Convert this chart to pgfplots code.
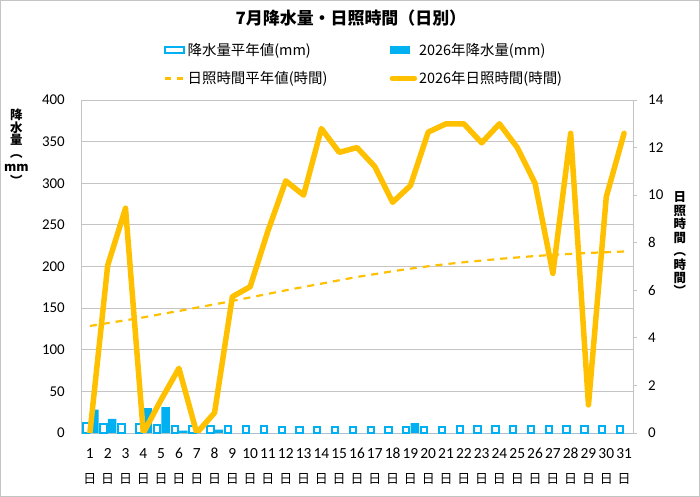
\documentclass[border=0pt]{standalone}
\usepackage{pgfplots}
\pgfplotsset{compat=1.18}
\usepackage{fontspec}
\setmainfont{Carlito}
\newfontfamily\jp{Noto Sans CJK JP}
\definecolor{rainblue}{HTML}{00B0F0}
\definecolor{sunyel}{HTML}{FFC000}
\definecolor{gridgray}{HTML}{C4C4C4}
\newcommand\dd[1]{#1\\{\jp\fontsize{13}{25}\selectfont 日}}
\begin{document}
\begin{tikzpicture}
\begin{axis}[
  at={(0,0)}, anchor=south west,
  scale only axis, width=552bp, height=333bp,
  xmin=0.5, xmax=31.5, ymin=0, ymax=400,
  ytick={0,50,...,400},
  xtick={1,...,31},
  xticklabels={\dd{1},\dd{2},\dd{3},\dd{4},\dd{5},\dd{6},\dd{7},\dd{8},\dd{9},\dd{10},\dd{11},\dd{12},\dd{13},\dd{14},\dd{15},\dd{16},\dd{17},\dd{18},\dd{19},\dd{20},\dd{21},\dd{22},\dd{23},\dd{24},\dd{25},\dd{26},\dd{27},\dd{28},\dd{29},\dd{30},\dd{31}},
  xticklabel style={align=center, font=\fontsize{15.5}{25}\selectfont, inner sep=0pt, yshift=-15bp},
  yticklabel style={font=\fontsize{15}{15}\selectfont, inner sep=0pt, xshift=-16bp},
  /pgf/number format/assume math mode=true,
  axis x line*=bottom, axis y line*=left,
  axis line style={draw=gridgray, line width=0.8bp, -},
  major tick length=0pt,
  ymajorgrids, grid style={draw=gridgray, line width=0.8bp},
  title={7月降水量・日照時間（日別）},
  title style={at={(0.489,1.228)}, anchor=center, font=\jp\bfseries\fontsize{17}{19}\selectfont},
  ylabel={降\\水\\量\\︵\\[2bp]mm\\[1bp]︶},
  ylabel style={rotate=-90, at={(axis description cs:-0.117,0.858)}, anchor=center, align=center, font=\jp\bfseries\fontsize{12.5}{12.5}\selectfont},
]
\addplot[ybar, bar width=0.355, bar shift=-0.23, draw=rainblue, fill=white, line width=2bp] coordinates {
(1,12) (2,11) (3,11) (4,11) (5,10) (6,9) (7,9) (8,8) (9,8) (10,8) (11,8) (12,7.5) (13,7.5) (14,7.5) (15,7.5) (16,7.5)
(17,7.5) (18,7.5) (19,7.5) (20,7.5) (21,7.5) (22,8) (23,8) (24,8) (25,8) (26,8) (27,8.5) (28,8.5) (29,8.5) (30,8.5) (31,8.5)};
\addplot[ybar, bar width=0.47, bar shift=0.25, draw=none, fill=rainblue] coordinates {
(1,28) (2,17) (3,0) (4,30) (5,31) (6,3) (7,0) (8,4) (9,0) (10,0) (11,0) (12,0) (13,0) (14,0) (15,0) (16,0)
(17,0) (18,0) (19,12) (20,0) (21,0) (22,0) (23,0) (24,0) (25,0) (26,0) (27,0) (28,0) (29,0) (30,0) (31,0)};
\end{axis}
\begin{axis}[
  at={(0,0)}, anchor=south west,
  scale only axis, width=552bp, height=333bp,
  xmin=0.5, xmax=31.5, ymin=0, ymax=14,
  ytick={0,2,...,14},
  axis x line=none, axis y line*=right,
  axis line style={draw=gridgray, line width=0.8bp, -},
  ytick style={draw=gridgray, line width=0.8bp},
  tick align=outside, major tick length=4bp,
  yticklabel style={font=\fontsize{15}{15}\selectfont, inner sep=0pt, xshift=11bp},
  /pgf/number format/assume math mode=true,
  ylabel={日\\照\\時\\間\\︵\\時\\間\\︶},
  ylabel style={rotate=-90, at={(axis description cs:1.085,0.568)}, anchor=center, align=center, font=\jp\bfseries\fontsize{12.5}{13.5}\selectfont},
  legend columns=2,
  legend cell align=left,
  legend style={at={(0.149,1.178)}, anchor=north west, draw=none, fill=none,
    font=\jp\fontsize{14.5}{17}\selectfont, row sep=11bp, inner sep=0pt},
]
\addlegendimage{legend image code/.code={\draw[draw=rainblue, fill=white, line width=2bp] (0bp,-3bp) rectangle (19bp,3bp);}}
\addlegendentry{\makebox[200bp][l]{降水量平年値(mm)}}
\addlegendimage{legend image code/.code={\fill[rainblue] (0bp,-3.5bp) rectangle (19bp,3.5bp);}}
\addlegendentry{2026年降水量(mm)}
\addplot[sunyel, line width=2.2bp, dash pattern=on 7bp off 6bp,
  legend image code/.code={\draw[sunyel, line width=2.2bp, dash pattern=on 6bp off 6bp] (0bp,0bp) -- (20bp,0bp);}] coordinates {
(1,4.50) (2,4.62) (3,4.74) (4,4.86) (5,5.00) (6,5.13) (7,5.27) (8,5.41) (9,5.55) (10,5.70) (11,5.85) (12,6.00) (13,6.14) (14,6.28) (15,6.42) (16,6.56)
(17,6.68) (18,6.80) (19,6.91) (20,7.01) (21,7.10) (22,7.18) (23,7.25) (24,7.32) (25,7.38) (26,7.44) (27,7.49) (28,7.53) (29,7.57) (30,7.60) (31,7.63)};
\addlegendentry{日照時間平年値(時間)}
\addplot[sunyel, line width=5.5bp, line join=round, line cap=round,
  legend image code/.code={\draw[sunyel, line width=5.5bp, line cap=round] (2bp,0bp) -- (24bp,0bp);}] coordinates {
(1,0) (2,7.05) (3,9.45) (4,0) (5,1.4) (6,2.72) (7,0) (8,0.85) (9,5.73) (10,6.15) (11,8.5) (12,10.6) (13,10.0) (14,12.8) (15,11.8) (16,12.0)
(17,11.2) (18,9.7) (19,10.4) (20,12.65) (21,13.0) (22,13.0) (23,12.2) (24,13.0) (25,12.0) (26,10.5) (27,6.71) (28,12.6) (29,1.18) (30,9.93) (31,12.6)};
\addlegendentry{2026年日照時間(時間)}
\end{axis}
\pgfresetboundingbox
\draw[gridgray, line width=1bp] (-80.5bp,-63.5bp) rectangle (618.5bp,432.5bp);
\path[use as bounding box] (-81bp,-64bp) rectangle (619bp,433bp);
\end{tikzpicture}
\end{document}
